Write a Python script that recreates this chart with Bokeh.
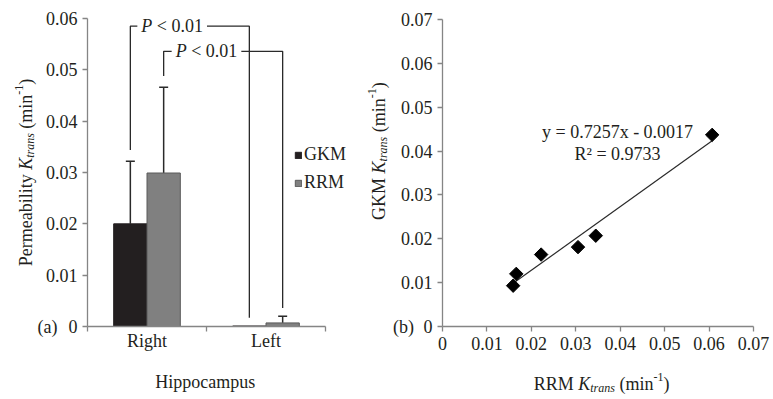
import math
from bokeh.plotting import figure
from bokeh.models import Range1d, FixedTicker, Label, Whisker, TeeHead, ColumnDataSource
from bokeh.layouts import row
from bokeh.embed import file_html
from bokeh.resources import INLINE

# ---------------- data ----------------
regions = ["Right", "Left"]
gkm_mean = [0.0200, 0.0001]
gkm_err = [0.0122, 0.0]
rrm_mean = [0.0299, 0.0007]
rrm_err = [0.0167, 0.0013]
p_text = "< 0.01"

bar_ticks = [0.0, 0.01, 0.02, 0.03, 0.04, 0.05, 0.06]
bar_tick_labels = ["0", "0.01", "0.02", "0.03", "0.04", "0.05", "0.06"]

rrm_k = [0.0159, 0.0166, 0.0222, 0.0305, 0.0345, 0.0607]
gkm_k = [0.0093, 0.0120, 0.0164, 0.0181, 0.0207, 0.0437]
fit_slope = 0.7257
fit_intercept = -0.0017
fit_r2 = 0.9733
sc_ticks = [0.0, 0.01, 0.02, 0.03, 0.04, 0.05, 0.06, 0.07]
sc_tick_labels = ["0", "0.01", "0.02", "0.03", "0.04", "0.05", "0.06", "0.07"]

# ---------------- style ----------------
FONT = "Liberation Serif"
TXT = "#231f20"
AX = "#858585"
FS = "18px"
H = 399
WA, WB = 362, 411

REG = {' ': .25, '(': .333, ')': .333, '-': .333, '1': .5, 'm': .778, 'i': .278, 'n': .5,
       'G': .722, 'K': .722, 'M': .889, 'R': .667, 'P': .556, 'e': .444, 'r': .333, 'a': .444,
       'b': .5, 'l': .278, 't': .278, 'y': .5, '<': .564, '0': .5, '.': .25}
ITA = {'K': .667, 't': .278, 'r': .389, 'a': .5, 'n': .5, 's': .389, 'P': .611}


def tw(s, size, italic=False):
    tab = ITA if italic else REG
    return sum(tab.get(c, 0.5) for c in s) * size


def px_range(lo_px, hi_px, zero_px, ppu, flip=False):
    # canvas pixel span -> data range, given the pixel of value 0 and pixels per unit
    if flip:
        return Range1d(-(hi_px - zero_px) / ppu, (zero_px - lo_px) / ppu)
    return Range1d((lo_px - zero_px) / ppu, (hi_px - zero_px) / ppu)


def style(p, xb, yb):
    p.xgrid.visible = False
    p.ygrid.visible = False
    p.outline_line_color = None
    p.background_fill_color = "white"
    p.border_fill_color = "white"
    p.xaxis[0].fixed_location = 0
    p.yaxis[0].fixed_location = 0
    p.xaxis[0].bounds = xb
    p.yaxis[0].bounds = yb
    for ax in (p.xaxis[0], p.yaxis[0]):
        ax.axis_line_color = AX
        ax.axis_line_width = 1.3
        ax.major_tick_line_color = AX
        ax.major_tick_line_width = 1.3
        ax.minor_tick_line_color = AX
        ax.minor_tick_line_width = 1.3
        ax.major_tick_in = 0
        ax.major_tick_out = 5
        ax.minor_tick_in = 0
        ax.minor_tick_out = 0
        ax.major_label_text_font = FONT
        ax.major_label_text_font_size = FS
        ax.major_label_text_color = TXT
        ax.major_label_standoff = 5


def axis_title(p, x, y, dx, dy, name, vertical):
    parts = [(name, 18, False, 0), (None, 18, False, 0), ("K", 18, True, 0),
             ("trans", 12, True, -4), (None, 18, False, 0), ("(min", 18, False, 0),
             ("-1", 12, False, 7), (")", 18, False, 0)]
    adv = [tw(t if t else " ", s, it) for t, s, it, _ in parts]
    pos = -sum(adv) / 2
    for (t, s, it, sh), a in zip(parts, adv):
        if t:
            kw = dict(x=x, y=y, text=t, text_font=FONT, text_font_size=f"{s}px",
                      text_font_style="italic" if it else "normal", text_color=TXT,
                      text_align="left", text_baseline="alphabetic")
            if vertical:
                kw.update(angle=math.pi / 2, x_offset=dx - sh, y_offset=dy + pos)
            else:
                kw.update(x_offset=dx + pos, y_offset=dy + sh)
            p.add_layout(Label(**kw))
        pos += a


# ---------------- (a) bar chart ----------------
a_ppx = (325 - 87) / 2.0
a_ppy = (326 - 18) / 0.06
pa = figure(width=WA, height=H,
            x_range=px_range(0, WA, 87, a_ppx), y_range=px_range(0, H, 326, a_ppy, flip=True),
            output_backend="svg", toolbar_location=None,
            min_border_left=0, min_border_right=0, min_border_top=0, min_border_bottom=0)
style(pa, (0, 2), (0, 0.06))

centers = [i + 0.5 for i in range(len(regions))]
off, bw = 0.14, 0.28
gx = [c - off for c in centers]
rx = [c + off for c in centers]

pa.vbar(x=gx, top=gkm_mean, bottom=0, width=bw, fill_color="#231f20", line_color="#231f20",
        line_width=1, legend_label="GKM")
pa.vbar(x=rx, top=rrm_mean, bottom=0, width=bw, fill_color="#808080", line_color="#5a5a5a",
        line_width=1, legend_label="RRM")

wx, wl, wu = [], [], []
for xs, m, e in ((gx, gkm_mean, gkm_err), (rx, rrm_mean, rrm_err)):
    for xi, mi, ei in zip(xs, m, e):
        if ei > 0:
            wx.append(xi); wl.append(mi); wu.append(mi + ei)
wsrc = ColumnDataSource(dict(x=wx, lower=wl, upper=wu))
pa.add_layout(Whisker(source=wsrc, base="x", lower="lower", upper="upper", dimension="height",
                      line_color="#2a2a2a", line_width=1.5, lower_head=None,
                      upper_head=TeeHead(size=9, line_color="#2a2a2a", line_width=1.5)))

# significance brackets (Right vs Left, same method)
levels = [0.0585, 0.0536]
for xs, m, e, h, tx in ((gx, gkm_mean, gkm_err, levels[0], 7), (rx, rrm_mean, rrm_err, levels[1], 8)):
    y0 = m[0] + e[0] + 0.0022
    y1 = m[1] + e[1] + 0.0016
    pa.line([xs[0], xs[0], xs[1], xs[1]], [y0, h, h, y1], line_color="#2a2a2a", line_width=1.3)
    wp = tw("P", 18, True)
    pa.add_layout(Label(x=xs[0], y=h, x_offset=tx, text="P", text_font=FONT, text_font_size=FS,
                        text_font_style="italic", text_color=TXT, text_baseline="middle",
                        background_fill_color="white", padding=4))
    pa.add_layout(Label(x=xs[0], y=h, x_offset=tx + wp + 4.5, text=p_text, text_font=FONT,
                        text_font_size=FS, text_color=TXT, text_baseline="middle",
                        background_fill_color="white", padding=4))

pa.yaxis[0].ticker = FixedTicker(ticks=bar_ticks)
pa.yaxis[0].major_label_overrides = dict(zip(bar_ticks, bar_tick_labels))
pa.xaxis[0].ticker = FixedTicker(ticks=centers, minor_ticks=[0, 1, 2])
pa.xaxis[0].major_label_overrides = dict(zip(centers, regions))
pa.xaxis[0].major_tick_out = 0
pa.xaxis[0].minor_tick_out = 5
pa.xaxis[0].major_label_standoff = -1

lg = pa.legend[0]
lg.location = (294, 206)
lg.glyph_width = 8
lg.glyph_height = 8
lg.label_standoff = 2
lg.spacing = 7
lg.padding = 0
lg.margin = 0
lg.label_height = 20
lg.label_text_font = FONT
lg.label_text_font_size = FS
lg.label_text_color = TXT
lg.border_line_color = None
lg.background_fill_alpha = 0

pa.add_layout(Label(x=0, y=0, x_offset=-40, text="(a)", text_font=FONT, text_font_size=FS,
                    text_color=TXT, text_align="center", text_baseline="middle"))
axis_title(pa, 0, 0.03, -62, 0, "Permeability", True)
pa.add_layout(Label(x=0.99, y=0, y_offset=-55, text="Hippocampus", text_font=FONT, text_font_size=FS,
                    text_color=TXT, text_align="center", text_baseline="alphabetic"))

# ---------------- (b) scatter ----------------
b_ppx = (753 - 442) / 0.07
b_ppy = (326 - 19) / 0.07
pb = figure(width=WB, height=H,
            x_range=px_range(WA, WA + WB, 442, b_ppx), y_range=px_range(0, H, 326, b_ppy, flip=True),
            output_backend="svg", toolbar_location=None,
            min_border_left=0, min_border_right=0, min_border_top=0, min_border_bottom=0)
style(pb, (0, 0.07), (0, 0.07))
pb.xaxis[0].ticker = FixedTicker(ticks=sc_ticks)
pb.xaxis[0].major_label_overrides = dict(zip(sc_ticks, sc_tick_labels))
pb.yaxis[0].ticker = FixedTicker(ticks=sc_ticks)
pb.yaxis[0].major_label_overrides = dict(zip(sc_ticks, sc_tick_labels))

fx = [min(rrm_k), max(rrm_k)]
fy = [fit_slope * v + fit_intercept for v in fx]
pb.line(fx, fy, line_color="#2a2a2a", line_width=1.2)
pb.scatter(rrm_k, gkm_k, marker="square", size=9.5, angle=math.pi / 4,
           fill_color="#000000", line_color="#000000")

pb.add_layout(Label(x=0.0394, y=0.0444, text=f"y = {fit_slope}x - {abs(fit_intercept)}", text_font=FONT,
                    text_font_size=FS, text_color=TXT, text_align="center", text_baseline="middle"))
pb.add_layout(Label(x=0.0394, y=0.0394, text=f"R² = {fit_r2}", text_font=FONT,
                    text_font_size=FS, text_color=TXT, text_align="center", text_baseline="middle"))
pb.add_layout(Label(x=0, y=0, x_offset=-39, text="(b)", text_font=FONT, text_font_size=FS,
                    text_color=TXT, text_align="center", text_baseline="middle"))
axis_title(pb, 0, 0.040, -64, 0, "GKM", True)
axis_title(pb, 0.0358, 0, 0, -57, "RRM", False)

layout = row(pa, pb)
open("out.html", "w").write(file_html(layout, INLINE))
